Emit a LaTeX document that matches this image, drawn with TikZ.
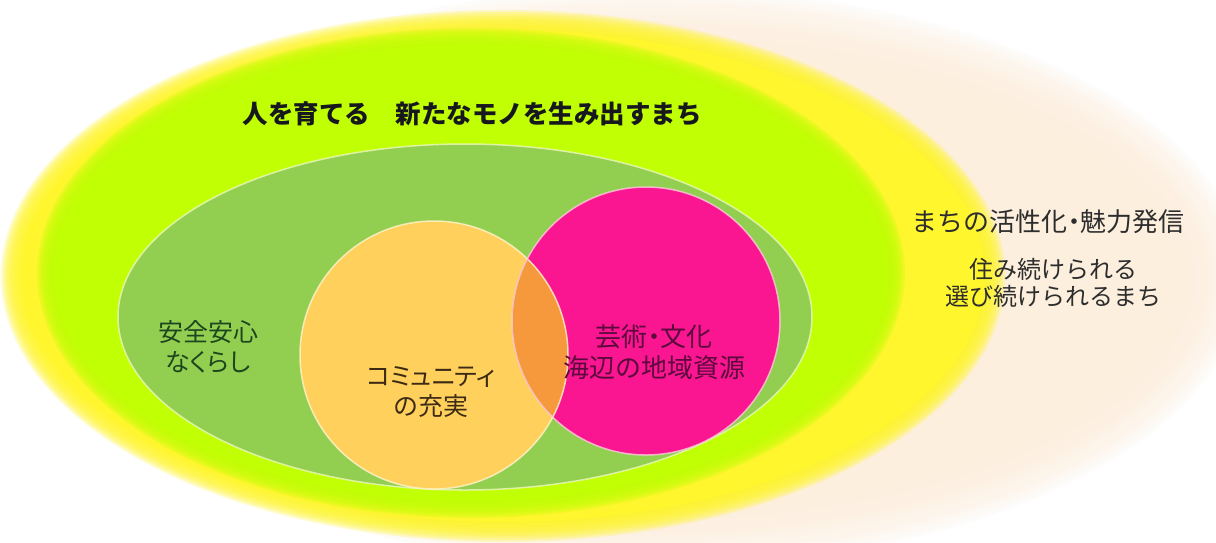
\documentclass[tikz,border=0pt]{standalone}
\usepackage{fontspec}
\newfontfamily\jp{Noto Sans CJK JP}
\newfontfamily\jpp{Noto Sans CJK JP}[RawFeature=+palt]
\definecolor{beigeC}{RGB}{253,239,222}
\definecolor{yellowC}{RGB}{255,246,46}
\definecolor{limeC}{RGB}{192,255,4}
\definecolor{greenC}{RGB}{146,206,80}
\definecolor{orangeC}{RGB}{255,208,92}
\definecolor{pinkC}{RGB}{250,22,145}
\definecolor{overlapC}{RGB}{246,152,60}
\definecolor{titleC}{RGB}{22,24,30}
\definecolor{safeC}{RGB}{30,70,30}
\definecolor{commC}{RGB}{60,42,20}
\definecolor{artC}{RGB}{92,10,60}
\definecolor{rightC}{RGB}{45,45,45}
\tikzset{
  lbl/.style={align=center, inner sep=0pt, font=\jp\fontsize{25}{30}\selectfont},
  rimline/.style={line width=1.5pt, opacity=0.8},
}
\begin{document}
\begin{tikzpicture}[x=1pt,y=1pt]
\useasboundingbox (0,0) rectangle (1216,-542);
\fill[white] (0,0) rectangle (1216,-542);
% beige outer halo (soft edge)
\fill[beigeC] (650,-278) ellipse [x radius=535, y radius=236];
\foreach \d in {-28,-24,...,28}{
  \fill[beigeC,opacity=0.14] (650,-278) ellipse [x radius={565+\d}, y radius={262+\d}];
}
% yellow ellipse (soft edge)
\fill[yellowC] (503,-276) ellipse [x radius=482, y radius=246];
\foreach \d in {-10,-8,...,10}{
  \fill[yellowC,opacity=0.25] (503,-276) ellipse [x radius={492+\d}, y radius={256+\d}];
}
% lime ellipse (soft edge)
\fill[limeC] (471,-273) ellipse [x radius=418, y radius=229];
\foreach \d in {-8,-6,...,8}{
  \fill[limeC,opacity=0.28] (471,-273) ellipse [x radius={426+\d}, y radius={237+\d}];
}
% green ellipse
\fill[greenC] (465,-317) ellipse [x radius=347, y radius=173];
\draw[rimline, draw={rgb,255:red,236;green,246;blue,190}] (465,-317) ellipse [x radius=347, y radius=173];
% circles
\fill[orangeC] (434,-355) circle [radius=134];
\fill[pinkC] (646,-321) circle [radius=134];
\begin{scope}
  \clip (434,-355) circle [radius=134];
  \fill[overlapC] (646,-321) circle [radius=134];
\end{scope}
\draw[rimline, draw={rgb,255:red,255;green,244;blue,205}] (434,-355) circle [radius=134];
\draw[rimline, draw={rgb,255:red,250;green,205;blue,220}] (646,-321) circle [radius=134];
% texts
\node[inner sep=0pt, text=titleC, font=\jp\bfseries\fontsize{25.5}{30}\selectfont] (title) at (472,-114) {人を育てる　新たなモノを生み出すまち};
\node[lbl, text=safeC] (safe) at (208,-347) {安全安心\\{\jpp なくらし}};
\node[lbl, text=commC] (comm) at (431,-392) {{\jpp コミュニティ}\\の充実};
\node[lbl, text=artC, font=\jp\fontsize{26}{31}\selectfont] (art) at (654,-352) {芸術{\jpp ・}文化\\海辺の地域資源};
\node[inner sep=0pt, text=rightC, font=\jp\fontsize{26}{30}\selectfont] (vital) at (1048,-222) {まちの活性化{\jpp ・}魅力発信};
\node[inner sep=0pt, align=center, text=rightC, font=\jp\fontsize{24}{27}\selectfont] (live) at (1053,-283) {住み続けられる\\選び続けられるまち};
\end{tikzpicture}
\end{document}
